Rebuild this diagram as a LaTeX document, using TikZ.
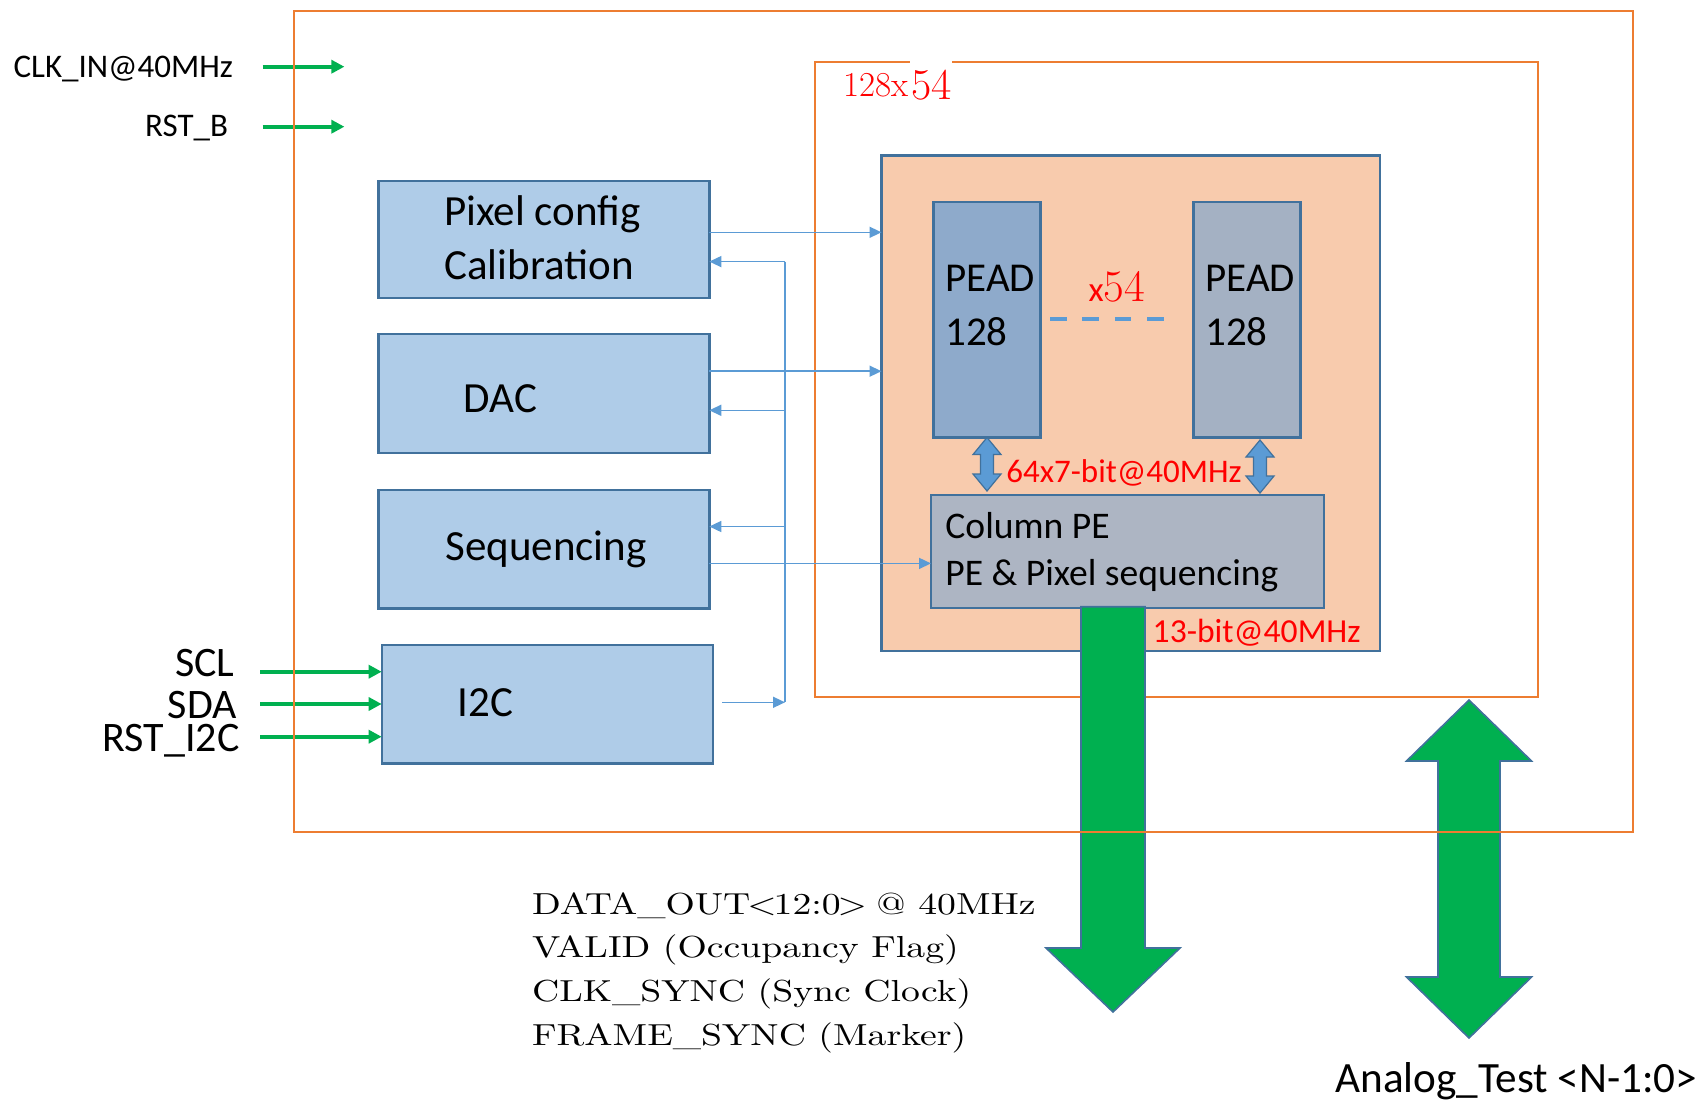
\documentclass[tikz,border=0pt]{standalone}
\usepackage{fontspec}
\newfontfamily\calfont{Carlito}
\newfontfamily\wideserif{lmroman10-regular.otf}[FakeStretch=1.24]
\usetikzlibrary{arrows.meta,calc,fit}
\definecolor{orangeL}{HTML}{ED7D31}
\definecolor{boxfill}{HTML}{AFCCE8}
\definecolor{boxdraw}{HTML}{41719C}
\definecolor{peach}{HTML}{F8CBAD}
\definecolor{peadAC}{HTML}{8EAACB}
\definecolor{peadBC}{HTML}{A4B1C3}
\definecolor{colpeC}{HTML}{ADB5C3}
\definecolor{linkblue}{HTML}{5B9BD5}
\definecolor{sigreen}{HTML}{00B050}
\definecolor{redtxt}{HTML}{FF0000}
\newcommand\vdblarrow[6]{\path[#1] let \p1=(#2), \p2=(#3) in
  (\x1,\y1) -- (\x1+#5,\y1-#6) -- (\x1+#4,\y1-#6) -- (\x1+#4,\y2+#6) -- (\x1+#5,\y2+#6)
  -- (\x1,\y2) -- (\x1-#5,\y2+#6) -- (\x1-#4,\y2+#6) -- (\x1-#4,\y1-#6) -- (\x1-#5,\y1-#6) -- cycle;}
\begin{document}
\begin{tikzpicture}[x=0.5pt,y=-0.5pt,
  region/.style={inner sep=0pt, outer sep=0pt, draw=orangeL, line width=1pt},
  blk/.style={inner sep=0pt, outer sep=0pt, draw=boxdraw, line width=1.2pt, fill=boxfill},
  lbl/.style={inner sep=0pt, anchor=base west},
  lble/.style={inner sep=0pt, anchor=base east},
  boxtxt/.style={lbl, font=\calfont\fontsize{21.5}{26}\selectfont},
  peadtxt/.style={lbl, font=\calfont\fontsize{20.5}{25}\selectfont},
  coltxt/.style={lbl, font=\calfont\fontsize{18.8}{23}\selectfont},
  pinlbl/.style={lble, font=\calfont\fontsize{16.5}{20}\selectfont},
  i2clbl/.style={lble, font=\calfont\fontsize{21}{25}\selectfont},
  link/.style={draw=linkblue, line width=0.75pt, -{Triangle[length=6pt,width=5.5pt]}},
  gpin/.style={draw=sigreen, line width=2pt, -{Triangle[length=6.5pt,width=6.5pt]}},
  barrow/.style={fill=linkblue, draw=boxdraw, line width=0.6pt},
  garrow/.style={fill=sigreen, draw=boxdraw, line width=0.8pt},
  outtxt/.style={lbl, font=\wideserif\fontsize{15.2}{18}\selectfont}]

\useasboundingbox (0,0) rectangle (1702,1103);

% 128x54 region
\node[region, fit={(815,62) (1538,697)}] (inner) {};
\fill[white] (910,56) rectangle (952,100);
\node[lbl, font=\fontsize{17.5}{20}\selectfont, text=redtxt] (lab128) at (843,96.7) {128x};
\node[lbl, font=\fontsize{22}{26}\selectfont, text=redtxt] (lab54) at (911,99.3) {54};

% core
\node[fit={(881.5,155.5) (1380,651)}, inner sep=0pt, outer sep=0pt, draw=boxdraw, line width=1.1pt, fill=peach] (core) {};
\node[blk, fill=peadAC, fit={(933.5,201.7) (1040.5,437.5)}] (peadA) {};
\node[blk, fill=peadBC, fit={(1193.4,201.7) (1300.6,437.5)}] (peadB) {};
\node[blk, fill=colpeC, fit={(931,495) (1324,608)}] (colpe) {};

\node[peadtxt] (pa1) at (945,291.7) {PEAD};
\node[peadtxt] (pa2) at (945,345) {128};
\node[peadtxt] (pb1) at (1205,291.7) {PEAD};
\node[peadtxt] (pb2) at (1205,345) {128};
\node[lbl, text=redtxt] (x54) at (1088.3,301.7) {{\calfont\fontsize{17.5}{20}\selectfont x}{\fontsize{22.5}{26}\selectfont 54}};
\coordinate (dashL) at (1050,319);
\coordinate (dashR) at (1165,319);
\draw[draw=linkblue, line width=2pt, dash pattern=on 8.3pt off 7.9pt] (dashL) -- (dashR);

\node[coltxt] (c1) at (945,538.3) {Column PE};
\node[coltxt] (c2) at (945,585) {PE \& Pixel sequencing};

% blue block arrows
\coordinate (rx) at (1260,0);
\coordinate (aLt) at (peadA.south);
\coordinate (aLb) at ($(colpe.north -| peadA.south)+(0,-4)$);
\coordinate (aRt) at ($(peadB.south -| rx)+(0,2.5)$);
\coordinate (aRb) at ($(colpe.north -| rx)+(0,-2)$);
\vdblarrow{barrow}{aLt}{aLb}{3.25pt}{7pt}{8.5pt}
\vdblarrow{barrow}{aRt}{aRb}{3.25pt}{7pt}{8.5pt}

\node[lbl, text=redtxt, font=\calfont\fontsize{16.5}{20}\selectfont] (bus64) at (1006,482.7) {64x7-bit@40MHz};
\node[lbl, text=redtxt, font=\calfont\fontsize{16.8}{20}\selectfont] (bus13) at (1152.3,642.7) {13-bit@40MHz};

% left blocks
\node[blk, fit={(378.3,181) (709.3,297.7)}] (pix) {};
\node[blk, fit={(378.3,334) (709.3,453)}] (dac) {};
\node[blk, fit={(378.3,490) (709.3,608.3)}] (seq) {};
\node[blk, fit={(381.7,645) (712.7,763.3)}] (i2c) {};
\node[boxtxt] (t1) at (444,225) {Pixel config};
\node[boxtxt] (t2) at (444,279.3) {Calibration};
\node[boxtxt] (t3) at (463.3,412.7) {DAC};
\node[boxtxt] (t4) at (445,560) {Sequencing};
\node[boxtxt] (t5) at (457.3,716) {I2C};

% thin links
\coordinate (busT) at (785,261.6);
\coordinate (busB) at (785,702.3);
\coordinate (yPixOut) at (0,232.3);
\coordinate (yDacOut) at (0,371.2);
\coordinate (yDacIn) at (0,410.3);
\coordinate (ySeqIn) at (0,526.5);
\coordinate (ySeqOut) at (0,563.4);
\coordinate (i2cOut) at (722,702.3);
\draw[draw=linkblue, line width=0.75pt] (busT) -- (busB);
\draw[link] (pix.east |- yPixOut) -- (core.west |- yPixOut);
\draw[link] (busT) -- (pix.east |- busT);
\draw[link] (dac.east |- yDacOut) -- (core.west |- yDacOut);
\draw[link] (busT |- yDacIn) -- (dac.east |- yDacIn);
\draw[link] (busT |- ySeqIn) -- (seq.east |- ySeqIn);
\draw[link] (seq.east |- ySeqOut) -- (colpe.west |- ySeqOut);
\draw[link] (i2cOut) -- (busB);

% green pins
\coordinate (clkS) at (262.5,66.7);
\coordinate (clkE) at (344.4,66.7);
\coordinate (rstS) at (262.5,126.7);
\coordinate (rstE) at (344.4,126.7);
\coordinate (sclS) at (260,671.7);
\coordinate (sdaS) at (260,704);
\coordinate (rsiS) at (260,736.7);
\draw[gpin] (clkS) -- (clkE);
\draw[gpin] (rstS) -- (rstE);
\draw[gpin] (sclS) -- (i2c.west |- sclS);
\draw[gpin] (sdaS) -- (i2c.west |- sdaS);
\draw[gpin] (rsiS) -- (i2c.west |- rsiS);
\node[pinlbl] (lclk) at (233.4,77.3) {CLK\_IN@40MHz};
\node[pinlbl] (lrst) at (228.5,136.7) {RST\_B};
\node[i2clbl] (lscl) at (235,676.5) {SCL};
\node[i2clbl] (lsda) at (237,718.3) {SDA};
\node[i2clbl] (lrsi) at (240,751.5) {RST\_I2C};

% big green arrows
\coordinate (gx) at (1113,0);
\coordinate (dTop) at ($(colpe.south -| gx)+(0,-1.3)$);
\coordinate (dTip) at (1113,1012);
\path[garrow] let \p1=(dTop), \p2=(dTip) in
  (\x1-16pt,\y1) -- (\x1+16pt,\y1) -- (\x1+16pt,\y2+32pt) -- (\x1+33.5pt,\y2+32pt)
  -- (\x2,\y2) -- (\x1-33.5pt,\y2+32pt) -- (\x1-16pt,\y2+32pt) -- cycle;
\coordinate (ax) at (1469,0);
\coordinate (aTop) at ($(inner.south -| ax)+(0,3)$);
\coordinate (aBot) at (1469,1038);
\vdblarrow{garrow}{aTop}{aBot}{15.5pt}{31.25pt}{30.5pt}

% output texts
\node[outtxt] (o1) at (531.7,914) {DATA\_OUT\kern-0.1em<\kern-0.1em12:0\kern-0.1em>\kern-0.1em{} @ 40MHz};
\node[outtxt] (o2) at (531.7,957.3) {VALID (Occupancy Flag)};
\node[outtxt] (o3) at (531.7,1001.7) {CLK\_SYNC (Sync Clock)};
\node[outtxt] (o4) at (531.7,1045) {FRAME\_SYNC (Marker)};
\node[lbl, font=\calfont\fontsize{21.6}{25}\selectfont] (analog) at (1335,1092) {Analog\_Test <N-1:0>};

% outer chip boundary
\node[region, fit={(294,11) (1633,832.3)}] (outer) {};
\end{tikzpicture}
\end{document}
